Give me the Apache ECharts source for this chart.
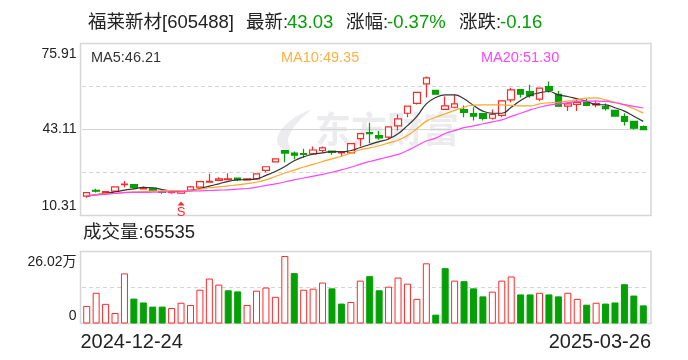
<!DOCTYPE html>
<html><head><meta charset="utf-8">
<style>html,body{margin:0;padding:0;background:#fff}#c{width:688px;height:360px}</style>
<script src="https://cdn.jsdelivr.net/npm/echarts@6/dist/echarts.min.js"></script>
</head><body><div id="c"></div>
<script>
const dates=["2024-12-24","2024-12-25","2024-12-26","2024-12-27","2024-12-30","2024-12-31","2025-01-02","2025-01-03","2025-01-06","2025-01-07","2025-01-08","2025-01-09","2025-01-10","2025-01-13","2025-01-14","2025-01-15","2025-01-16","2025-01-17","2025-01-20","2025-01-21","2025-01-22","2025-01-23","2025-01-24","2025-01-27","2025-02-05","2025-02-06","2025-02-07","2025-02-10","2025-02-11","2025-02-12","2025-02-13","2025-02-14","2025-02-17","2025-02-18","2025-02-19","2025-02-20","2025-02-21","2025-02-24","2025-02-25","2025-02-26","2025-02-27","2025-02-28","2025-03-03","2025-03-04","2025-03-05","2025-03-06","2025-03-07","2025-03-10","2025-03-11","2025-03-12","2025-03-13","2025-03-14","2025-03-17","2025-03-18","2025-03-19","2025-03-20","2025-03-21","2025-03-24","2025-03-25","2025-03-26"];
const opens=[17.7,19.9,19.0,19.6,22.1,22.1,20.5,20.7,19.3,19.0,18.8,20.0,21.1,23.0,23.7,24.0,24.6,23.9,24.3,27.5,30.8,35.1,34.1,33.9,33.8,35.1,34.9,34.2,34.2,39.6,41.9,40.8,40.2,44.5,49.3,53.1,60.5,58.0,50.8,51.6,50.7,49.2,49.2,47.4,48.5,54.4,58.3,57.6,54.7,59.5,56.5,52.0,52.7,53.4,52.5,51.8,50.4,48.0,46.2,44.2];
const closes=[19.0,19.6,19.4,21.25,22.3,21.0,20.9,19.85,19.1,19.3,19.6,21.25,23.2,23.3,24.3,24.3,24.0,24.3,26.2,28.9,31.9,34.1,33.3,33.6,35.3,36.1,34.4,34.6,37.7,41.5,41.5,39.9,44.1,47.2,52.0,57.3,62.8,56.6,52.1,52.9,49.6,48.2,47.3,48.9,54.0,58.2,56.6,56.0,58.9,58.0,52.0,52.9,53.4,52.3,53.0,51.1,48.2,46.2,43.6,43.03];
const lows=[17.1,19.1,18.9,19.6,21.1,20.3,20.4,19.8,18.6,18.6,18.7,20.0,21.1,23.0,23.4,24.0,23.5,23.7,23.9,26.8,30.5,30.6,31.8,32.3,33.8,34.4,33.5,32.8,34.2,36.6,37.9,39.2,39.4,42.7,47.8,52.6,55.3,56.6,50.8,51.2,47.8,46.5,46.5,46.9,47.8,53.5,55.3,55.2,53.9,57.2,52.0,50.2,50.2,52.0,51.6,50.4,48.2,44.6,43.1,43.03];
const highs=[19.0,20.5,19.7,21.3,23.5,22.1,21.4,21.1,19.85,20.0,19.7,21.6,23.2,26.2,24.9,26.4,24.7,24.4,26.2,28.9,31.9,35.1,34.7,35.75,36.6,36.6,34.9,34.6,37.7,41.5,45.7,42.5,44.1,48.8,52.0,57.5,63.3,58.0,55.7,56.5,52.3,51.6,49.2,50.7,54.2,59.0,58.3,60.2,58.9,61.4,57.8,53.5,54.8,54.8,54.2,53.0,50.4,49.3,46.2,44.6];
const ma5=[17.7,18.3,18.7,19.3,20.0,20.5,21.0,20.9,20.2,19.7,19.6,19.85,20.6,21.5,22.4,23.3,23.9,24.0,24.3,25.6,27.1,29.0,31.2,32.7,33.7,34.2,34.7,34.6,35.1,36.25,37.4,38.5,39.5,41.5,44.6,48.1,52.9,55.3,56.3,56.3,54.8,52.3,50.1,49.3,49.3,51.6,54.2,56.1,57.1,57.6,56.3,55.7,54.8,53.9,52.6,52.5,51.4,50.1,48.2,46.21];
const ma10=[17.9,18.3,18.6,18.8,19.1,19.3,19.4,19.6,19.7,19.85,19.85,19.85,20.4,20.9,21.2,21.6,22.0,22.5,23.0,23.9,25.2,26.5,27.6,28.8,29.8,30.9,31.9,32.9,34.1,35.4,36.1,36.9,38.0,39.0,40.8,43.4,46.3,47.8,49.1,50.4,51.6,52.4,52.5,52.5,52.5,52.3,52.1,52.1,52.9,53.3,53.5,53.9,54.5,55.1,55.2,54.4,53.5,52.5,51.0,49.35];
const ma20=[17.8,18.1,18.4,18.7,19.0,19.1,19.1,19.2,19.3,19.3,19.4,19.6,19.7,19.85,20.0,20.1,20.4,20.6,21.1,21.8,22.4,23.1,23.9,24.6,25.3,26.0,26.8,27.7,28.7,29.9,30.9,31.8,32.7,33.6,35.1,36.9,38.7,39.8,41.6,42.7,43.8,44.5,45.3,46.0,46.8,48.1,49.3,50.6,51.6,52.4,52.9,53.3,53.8,53.9,53.9,53.8,53.3,52.6,51.9,51.30];
const volumes=[6.35,11.1,7.1,3.8,18.1,9.0,7.6,6.1,6.1,5.6,7.5,6.7,12.2,16.25,14.05,12.0,11.6,6.7,11.85,13.0,9.65,24.4,18.2,12.2,12.6,14.8,12.7,7.2,7.8,15.5,17.1,12.0,13.3,16.6,14.4,8.9,21.75,3.2,20.0,15.5,15.3,12.7,9.8,11.5,15.5,17.0,10.5,10.5,11.1,10.5,9.8,11.1,8.9,6.8,7.5,7.2,7.6,14.2,10.1,6.55];
const volumeDir="RRRRRGGGGRRRRRRGGRRRRRGRRRGGRRGGRRRRRGGRGGGRRRGGRGGRRGRGGGGG".split("");
const priceTicks=[10.31,43.11,75.91];
const priceSolid=[43.11];
const priceDashed=[26.71,59.51];
const volumeTicks=[0,26.02];
const volumeDashed=[13.01];
const xTicks=["2024-12-24","2025-03-26"];
const signalIndex=10, signalValue=14.9, signalText="S";
const titleParts=[["福莱新材[605488]",88,"#222"],["最新:",246,"#222"],["43.03",287,"#05a005"],["涨幅:",346,"#222"],["-0.37%",387,"#05a005"],["涨跌:",459,"#222"],["-0.16",500,"#05a005"]];
const maLabels=[["MA5:46.21",91,"#333"],["MA10:49.35",281,"#ffb040"],["MA20:51.30",481,"#ff44ff"]];
const volumeTitle="成交量:65535";

const FF='"Liberation Sans","Noto Sans CJK SC",sans-serif';
const RED='#fb2a2a',GREEN='#05a005',FRAME='#d6d6da',DASH='#d4d4d4';
const L=80.5,W=570.5,T1=43.5,H1=172,T2=251.5,H2=72;
const DL=82,DW=566;
const line=(data,color,name)=>({name,type:'line',xAxisIndex:1,yAxisIndex:1,data,smooth:true,showSymbol:false,symbol:'none',z:5,lineStyle:{width:1.2,color},itemStyle:{color},silent:true});
const ruleLines=(solid,dashed)=>({silent:true,symbol:'none',z:1,precision:2,label:{show:false},emphasis:{disabled:true},
  data:solid.map(v=>({yAxis:v,lineStyle:{color:DASH,width:1,type:'solid'}})).concat(dashed.map(v=>({yAxis:v,lineStyle:{color:DASH,width:1,type:[4,3]}})))});
const titles=[];
titleParts.forEach(p=>titles.push({text:p[0],left:p[1],top:14,padding:0,textStyle:{fontFamily:FF,fontSize:18.5,fontWeight:'normal',color:p[2]}}));
maLabels.forEach(p=>titles.push({text:p[0],left:p[1],top:51,padding:0,textStyle:{fontFamily:FF,fontSize:14.5,fontWeight:'normal',color:p[2]}}));
titles.push({text:volumeTitle,left:83,top:224,padding:0,textStyle:{fontFamily:FF,fontSize:18.5,fontWeight:'normal',color:'#222'}});
const hiddenX=(g)=>({type:'category',gridIndex:g,data:dates,show:false,boundaryGap:true});
const chart=echarts.init(document.getElementById('c'),null,{renderer:'canvas'});
chart.setOption({
 animation:false,backgroundColor:'#fff',title:titles,
 graphic:[
  {type:'text',z:0,left:315,top:111,style:{text:'东方财富',fontFamily:'"Noto Sans CJK SC"',fontWeight:'bold',fontSize:36,fill:'#ececef'}},
  {type:'polygon',z:0,left:277,top:110,shape:{points:[[34,0],[18,8],[5,20],[1,31],[5,38],[14,40],[12,30],[16,20],[24,10]],smooth:0.3},style:{fill:'#ececef'}}
 ],
 grid:[
  {left:L,top:T1,width:W,height:H1,show:true,borderColor:FRAME,borderWidth:1.5,backgroundColor:'transparent'},
  {left:DL,top:T1,width:DW,height:H1},
  {left:L,top:T2,width:W,height:H2,show:true,borderColor:FRAME,borderWidth:1.5,backgroundColor:'transparent'},
  {left:DL,top:T2,width:DW,height:H2}
 ],
 xAxis:[
  {type:'category',gridIndex:0,data:xTicks,show:false,boundaryGap:false},
  hiddenX(1),
  {type:'category',gridIndex:2,data:xTicks,boundaryGap:false,axisLine:{show:false},axisTick:{show:false},
   axisLabel:{show:true,interval:0,margin:9,fontFamily:FF,fontSize:20,color:'#222',alignMinLabel:'left',alignMaxLabel:'right'}},
  hiddenX(3)
 ],
 yAxis:[
  {type:'value',gridIndex:0,min:10.31,max:75.91,axisLine:{show:false},axisTick:{show:false},splitLine:{show:false},
   axisLabel:{customValues:priceTicks,margin:4,padding:[4,0,2,0],fontFamily:FF,fontSize:14,color:'#222',verticalAlignMaxLabel:'top',verticalAlignMinLabel:'bottom'}},
  {type:'value',gridIndex:1,min:10.31,max:75.91,show:false},
  {type:'value',gridIndex:2,min:0,max:26.02,axisLine:{show:false},axisTick:{show:false},splitLine:{show:false},
   axisLabel:{customValues:volumeTicks,margin:4,padding:[4,0,0,0],fontFamily:FF,fontSize:14,color:'#222',verticalAlignMaxLabel:'top',verticalAlignMinLabel:'bottom',
    formatter:v=>v===0?'0':v+'万'}},
  {type:'value',gridIndex:3,min:0,max:26.02,show:false}
 ],
 series:[
  {type:'candlestick',xAxisIndex:1,yAxisIndex:1,z:3,barWidth:7,silent:true,
   data:dates.map((d,i)=>[opens[i],closes[i],lows[i],highs[i]]),
   itemStyle:{color:'#fff',color0:GREEN,borderColor:RED,borderColor0:GREEN,borderWidth:1.2},
   markLine:ruleLines(priceSolid,priceDashed),
   markPoint:{silent:true,symbol:'triangle',symbolSize:[7,4],itemStyle:{color:RED},
    data:[{coord:[dates[signalIndex],signalValue],label:{show:true,formatter:signalText,position:'bottom',distance:0,color:RED,fontFamily:FF,fontSize:13}}]}},
  line(ma5,'#333333','MA5'),line(ma10,'#ffa726','MA10'),line(ma20,'#ff44ff','MA20'),
  {type:'bar',xAxisIndex:3,yAxisIndex:3,barWidth:7,z:3,silent:true,
   markLine:ruleLines([],volumeDashed),
   data:volumes.map((v,i)=>({value:v,itemStyle:volumeDir[i]==='R'?{color:'#fff',borderColor:RED,borderWidth:1}:{color:GREEN,borderColor:GREEN,borderWidth:1}}))}
 ]
});
</script></body></html>
